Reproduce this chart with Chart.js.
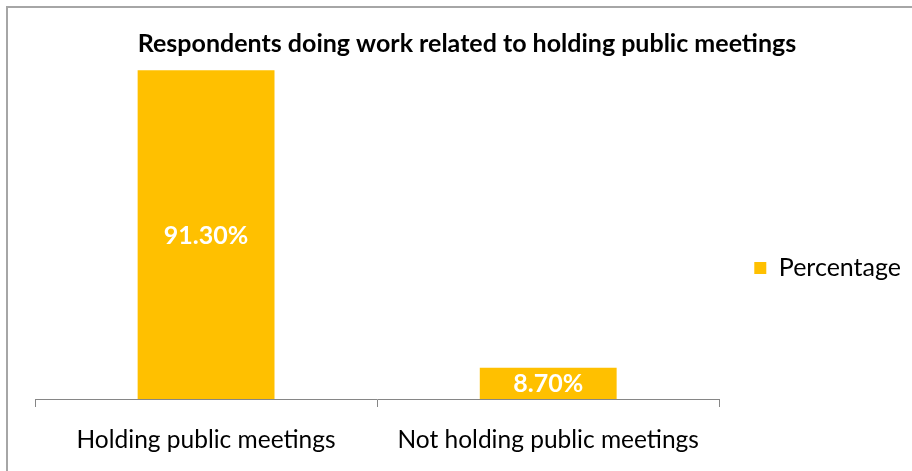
<!DOCTYPE html>
<html>
<head>
<meta charset="utf-8">
<script src="https://cdn.jsdelivr.net/npm/chart.js@4.4.1/dist/chart.umd.min.js"></script>
<style>
  html, body { margin: 0; padding: 0; background: #fff; }
  #wrap { position: relative; width: 912px; height: 471px; overflow: hidden; }
  #frame {
    position: absolute; left: 6px; top: 6px; width: 940px; height: 500px;
    border-left: 2px solid #a6a6a6; border-top: 2px solid #a6a6a6;
    pointer-events: none;
  }
</style>
</head>
<body>
<div id="wrap">
  <canvas id="myChart" width="912" height="471"></canvas>
  <div id="frame"></div>
</div>
<script>
const chartTitle = 'Respondents doing work related to holding public meetings';
const categories = ['Holding public meetings', 'Not holding public meetings'];
const seriesName = 'Percentage';
const percentages = [91.30, 8.70];

const FONT = 'Lato, "Open Sans", sans-serif';

// title drawn over the top margin so the value axis can run up to 100
const titlePlugin = {
  id: 'topTitle',
  afterDraw(chart) {
    const ctx = chart.ctx;
    ctx.save();
    ctx.font = 'bold 25px ' + FONT;
    ctx.fillStyle = '#000';
    ctx.textAlign = 'center';
    ctx.textBaseline = 'middle';
    ctx.fillText(chartTitle, 467, 44);
    ctx.restore();
  }
};

// value labels in the middle of each bar
const barLabels = {
  id: 'barLabels',
  afterDatasetsDraw(chart) {
    const ctx = chart.ctx;
    ctx.save();
    ctx.font = 'bold 25px ' + FONT;
    ctx.fillStyle = '#fff';
    ctx.textAlign = 'center';
    ctx.textBaseline = 'middle';
    chart.getDatasetMeta(0).data.forEach((bar, i) => {
      const { x, y, base } = bar.getProps(['x', 'y', 'base'], true);
      ctx.fillText(percentages[i].toFixed(2) + '%', x, (y + base) / 2 + 1);
    });
    ctx.restore();
  }
};

// push the legend down a little from the vertical centre
const legendNudge = {
  id: 'legendNudge',
  afterLayout(chart) {
    if (chart.legend) {
      chart.legend.top += 12;
      chart.legend.bottom += 12;
    }
  }
};

const ctx = document.getElementById('myChart');

new Chart(ctx, {
  type: 'bar',
  data: {
    labels: categories,
    datasets: [{
      label: seriesName,
      data: percentages,
      backgroundColor: '#FFC000',
      borderWidth: 0,
      categoryPercentage: 1,
      barPercentage: 0.4,
    }],
  },
  options: {
    responsive: false,
    animation: false,
    layout: {
      padding: { top: 39, left: 35, right: 1, bottom: -2 },
    },
    scales: {
      y: {
        display: false,
        min: 0,
        max: 100,
      },
      x: {
        border: { color: '#868686', width: 1 },
        grid: {
          offset: true,
          drawOnChartArea: false,
          drawTicks: true,
          tickLength: 8,
          color: '#868686',
        },
        ticks: {
          color: '#000',
          padding: 18.3,
          font: { family: FONT, size: 24.5 },
        },
      },
    },
    plugins: {
      legend: {
        position: 'right',
        labels: {
          boxWidth: 12,
          boxHeight: 12,
          padding: 35,
          color: '#000',
          font: { family: FONT, size: 25 },
        },
      },
      tooltip: { enabled: false },
    },
  },
  plugins: [titlePlugin, barLabels, legendNudge],
});
</script>
</body>
</html>
